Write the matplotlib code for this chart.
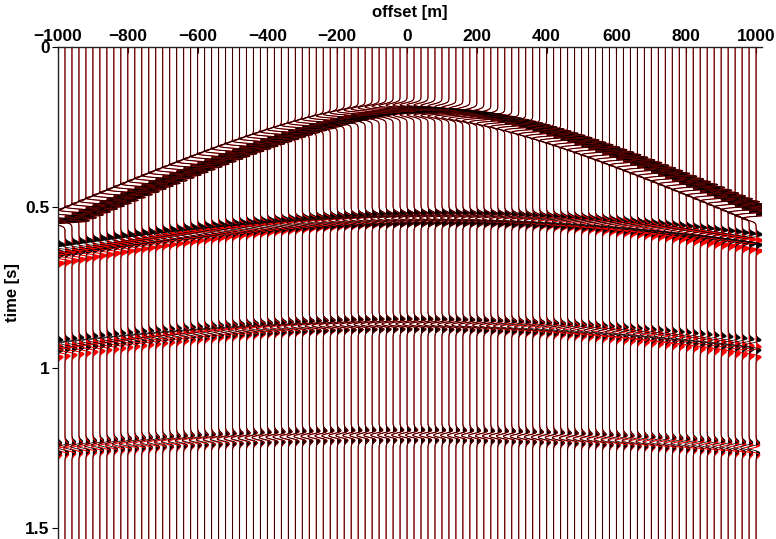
import numpy as np
import matplotlib
matplotlib.use("Agg")
import matplotlib.pyplot as plt
from matplotlib.collections import LineCollection

# ---- data ----
trace_offsets = list(range(-1000, 1001, 20))          # m, 101 traces
event_t0 = [0.196, 0.533, 0.864, 1.210]               # s, zero-offset times
event_x0 = [25, 100, 0, 0]                            # m, apex position
event_v_black = [2030, 3250, 2920, 3190]              # m/s, black gather
event_v_red = [2030, 2850, 2515, 2940]                # m/s, red gather
event_amp = [4.5, -2.2, -1.6, -1.2]                   # in trace spacings
wavelet_freq = 25.0                                   # Hz
x_ticks = [-1000, -800, -600, -400, -200, 0, 200, 400, 600, 800, 1000]
y_ticks = [0, 0.5, 1, 1.5]
y_tick_labels = ["0", "0.5", "1", "1.5"]

plt.rcParams["font.family"] = ["Liberation Sans", "DejaVu Sans"]
plt.rcParams["font.weight"] = "bold"

fig = plt.figure(figsize=(7.76, 5.39), dpi=100)
ax = fig.add_axes([58 / 776, 0.0, (762 - 58) / 776, (539 - 47) / 539])

t = np.arange(0.0, 1.6, 0.001)
spacing = trace_offsets[1] - trace_offsets[0]


def ricker(tau, f):
    a = (np.pi * f * tau) ** 2
    return (1 - 2 * a) * np.exp(-a)


def trace(x, vels):
    s = np.zeros_like(t)
    for t0, x0, v, a in zip(event_t0, event_x0, vels, event_amp):
        tt = np.sqrt(t0 ** 2 + ((x - x0) / v) ** 2)
        s += a * ricker(t - tt, wavelet_freq)
    return s * spacing


for vels, col, lw in [(event_v_red, "red", 0.8), (event_v_black, "black", 0.55)]:
    segs = []
    for x in trace_offsets:
        s = trace(x, vels)
        ax.fill_betweenx(t, x, x + s, where=s > 0, interpolate=True,
                         color=col, linewidth=0)
        segs.append(np.column_stack([x + s, t]))
    ax.add_collection(LineCollection(segs, colors=col, linewidths=lw))

ax.set_xlim(-1000, 1017)
ax.set_ylim(1.534, 0)
ax.xaxis.tick_top()
ax.xaxis.set_label_position("top")
ax.set_xticks(x_ticks)
ax.set_yticks(y_ticks)
ax.set_yticklabels(y_tick_labels)
ax.tick_params(axis="x", direction="in", length=4, pad=2, labelsize=12.5)
ax.tick_params(axis="y", direction="out", length=4, pad=2, labelsize=12.5)
for lab in ax.get_xticklabels() + ax.get_yticklabels():
    lab.set_fontweight("bold")
ax.set_xlabel("offset [m]", fontsize=12, fontweight="bold", labelpad=9)
ax.set_ylabel("time [s]", fontsize=12, fontweight="bold")
ax.yaxis.set_label_coords(-0.054, 0.5)
ax.spines["right"].set_visible(False)
ax.spines["bottom"].set_visible(False)
for sp in ("top", "left"):
    ax.spines[sp].set_linewidth(1.0)
    ax.spines[sp].set_color("#222222")

fig.savefig("out.png", dpi=100)
